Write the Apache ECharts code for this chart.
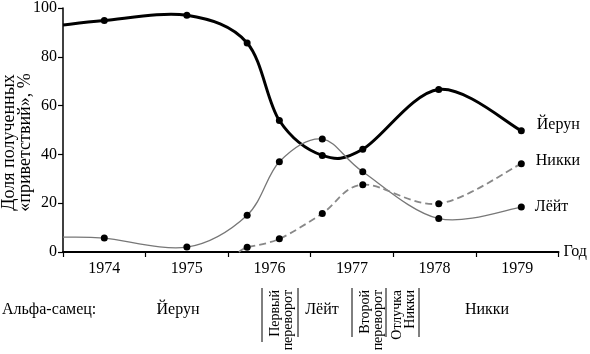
<!DOCTYPE html>
<html>
<head>
<meta charset="utf-8">
<script src="https://cdn.jsdelivr.net/npm/echarts@6/dist/echarts.min.js"></script>
<style>html,body{margin:0;padding:0;background:#fff}#c{width:590px;height:354px}</style>
</head>
<body>
<div id="c"></div>
<script>
const yearLabels = ['1974', '1975', '1976', '1977', '1978', '1979'];
const yTicks = [0, 20, 40, 60, 80, 100];
const yerunX = [1974, 1974.5, 1975.5, 1976.23, 1976.62, 1977.14, 1977.63, 1978.55, 1979.55];
const yerunY = [93, 94.9, 97, 85.7, 53.9, 39.6, 42.1, 66.6, 49.7];
const leitX = [1974, 1974.5, 1975.5, 1976.23, 1976.62, 1977.14, 1977.63, 1978.55, 1979.55];
const leitY = [6.1, 5.7, 2.0, 15.1, 37.0, 46.3, 32.9, 13.7, 18.4];
const nikkiX = [1976.13, 1976.23, 1976.62, 1977.14, 1977.63, 1978.55, 1979.55];
const nikkiY = [0, 1.9, 5.4, 15.8, 27.6, 19.8, 36.2];

const FONT = 'Liberation Serif';
const txt = { fontFamily: FONT, color: '#000' };

// smooth curve (Catmull-Rom through the data points, in pixel space of the axes)
function curveSeries(name, xs, ys, lineStyle) {
  return {
    type: 'custom', name: name, coordinateSystem: 'cartesian2d', silent: true, z: 2,
    data: [[xs[0], ys[0]]],
    renderItem: function (params, api) {
      const p = xs.map((x, i) => api.coord([x, ys[i]]));
      let d = 'M' + p[0][0] + ',' + p[0][1];
      for (let i = 0; i < p.length - 1; i++) {
        const p0 = p[Math.max(i - 1, 0)], p1 = p[i], p2 = p[i + 1], p3 = p[Math.min(i + 2, p.length - 1)];
        const c1 = [p1[0] + (p2[0] - p0[0]) / 6, p1[1] + (p2[1] - p0[1]) / 6];
        const c2 = [p2[0] - (p3[0] - p1[0]) / 6, p2[1] - (p3[1] - p1[1]) / 6];
        d += ' C' + c1[0] + ',' + c1[1] + ' ' + c2[0] + ',' + c2[1] + ' ' + p2[0] + ',' + p2[1];
      }
      return { type: 'path', shape: { pathData: d }, style: Object.assign({ fill: 'none' }, lineStyle) };
    }
  };
}
function markerSeries(name, xs, ys, labelOffset) {
  const data = [];
  for (let i = 1; i < xs.length; i++) {
    const item = { value: [xs[i], ys[i]] };
    if (i === xs.length - 1) {
      item.label = Object.assign({ show: true, position: 'right', formatter: name, fontSize: 16, distance: labelOffset[0], offset: [0, labelOffset[1]] }, txt);
    }
    data.push(item);
  }
  return {
    type: 'scatter', name: name, data: data, symbol: 'circle', symbolSize: 7, z: 3,
    itemStyle: { color: '#000', opacity: 1 }, label: { show: false }
  };
}

const chart = echarts.init(document.getElementById('c'), null, { renderer: 'canvas' });
chart.setOption({
  animation: false,
  textStyle: { fontFamily: FONT },
  grid: { left: 63, right: 28.5, top: 5, bottom: 102 },
  xAxis: [{
    type: 'value', min: 1974, max: 1980, interval: 1,
    axisLine: { lineStyle: { color: '#000', width: 2 } },
    axisTick: { show: true, length: 5, lineStyle: { color: '#000', width: 1.2 } },
    axisLabel: { show: false },
    splitLine: { show: false },
    name: 'Год', nameLocation: 'end', nameGap: 5,
    nameTextStyle: Object.assign({ fontSize: 16 }, txt)
  }, {
    type: 'category', data: yearLabels, boundaryGap: true, position: 'bottom',
    axisLine: { show: false }, axisTick: { show: false },
    axisLabel: Object.assign({ fontSize: 16, margin: 9 }, txt)
  }],
  yAxis: {
    type: 'value', min: yTicks[0], max: yTicks[yTicks.length - 1], interval: 20,
    axisLine: { show: true, lineStyle: { color: '#000', width: 1.5 } },
    axisTick: { show: true, length: 5, lineStyle: { color: '#000', width: 1.2 } },
    axisLabel: Object.assign({ fontSize: 16, margin: 6 }, txt),
    splitLine: { show: false }
  },
  series: [
    curveSeries('Йерун', yerunX, yerunY, { stroke: '#000', lineWidth: 3 }),
    curveSeries('Лёйт', leitX, leitY, { stroke: '#777', lineWidth: 1.3 }),
    curveSeries('Никки', nikkiX, nikkiY, { stroke: '#888', lineWidth: 1.8, lineDash: [7, 4] }),
    markerSeries('Йерун', yerunX, yerunY, [12, -6]),
    markerSeries('Лёйт', leitX, leitY, [10, 0]),
    markerSeries('Никки', nikkiX, nikkiY, [11, -3])
  ],
  graphic: [
    { type: 'text', x: 17, y: 142.5, rotation: Math.PI / 2,
      style: { text: 'Доля полученных\n«приветствий», %', font: '18px ' + FONT, fill: '#000', align: 'center', verticalAlign: 'middle', lineHeight: 16 } },
    { type: 'text', x: 2, y: 310, style: { text: 'Альфа-самец:', font: '16px ' + FONT, fill: '#000', align: 'left', verticalAlign: 'middle' } },
    { type: 'text', x: 178, y: 310, style: { text: 'Йерун', font: '16px ' + FONT, fill: '#000', align: 'center', verticalAlign: 'middle' } },
    { type: 'text', x: 322, y: 310, style: { text: 'Лёйт', font: '16px ' + FONT, fill: '#000', align: 'center', verticalAlign: 'middle' } },
    { type: 'text', x: 487, y: 310, style: { text: 'Никки', font: '16px ' + FONT, fill: '#000', align: 'center', verticalAlign: 'middle' } },
    { type: 'text', x: 281.5, y: 290, rotation: Math.PI / 2,
      style: { text: 'Первый\nпереворот', font: '14px ' + FONT, fill: '#000', align: 'right', verticalAlign: 'middle', lineHeight: 13 } },
    { type: 'text', x: 371.5, y: 290, rotation: Math.PI / 2,
      style: { text: 'Второй\nпереворот', font: '14px ' + FONT, fill: '#000', align: 'right', verticalAlign: 'middle', lineHeight: 13 } },
    { type: 'text', x: 404, y: 290, rotation: Math.PI / 2,
      style: { text: 'Отлучка\nНикки', font: '14px ' + FONT, fill: '#000', align: 'right', verticalAlign: 'middle', lineHeight: 13 } },
    { type: 'line', shape: { x1: 262, y1: 288, x2: 262, y2: 342 }, style: { stroke: '#000', lineWidth: 1 } },
    { type: 'line', shape: { x1: 298, y1: 288, x2: 298, y2: 337 }, style: { stroke: '#000', lineWidth: 1 } },
    { type: 'line', shape: { x1: 352, y1: 288, x2: 352, y2: 337 }, style: { stroke: '#000', lineWidth: 1 } },
    { type: 'line', shape: { x1: 386, y1: 288, x2: 386, y2: 337 }, style: { stroke: '#000', lineWidth: 1 } },
    { type: 'line', shape: { x1: 419, y1: 288, x2: 419, y2: 337 }, style: { stroke: '#000', lineWidth: 1 } }
  ]
});
</script>
</body>
</html>
